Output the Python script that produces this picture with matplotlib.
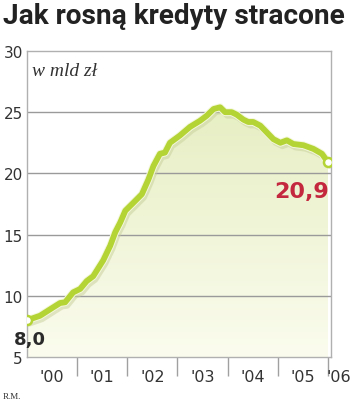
import numpy as np
import matplotlib
matplotlib.use("Agg")
import matplotlib.pyplot as plt
import matplotlib.patheffects as pe
from matplotlib.colors import LinearSegmentedColormap
from matplotlib.patches import Polygon

# data (decimal year, bln zł)
years = [2000.0, 2000.26, 2000.52, 2000.66, 2000.76, 2000.92, 2001.06, 2001.19, 2001.32,
         2001.52, 2001.66, 2001.76, 2001.86, 2001.96, 2002.12, 2002.29, 2002.42, 2002.52,
         2002.65, 2002.75, 2002.85, 2003.05, 2003.25, 2003.45, 2003.58, 2003.72, 2003.85,
         2003.95, 2004.08, 2004.18, 2004.31, 2004.41, 2004.51, 2004.65, 2004.78, 2004.91,
         2005.05, 2005.18, 2005.31, 2005.51, 2005.71, 2005.88, 2006.0]
values = [8.0, 8.37, 9.05, 9.41, 9.47, 10.28, 10.56, 11.2, 11.6,
          12.9, 14.1, 15.2, 16.0, 16.95, 17.6, 18.3, 19.5, 20.6,
          21.6, 21.7, 22.5, 23.1, 23.8, 24.3, 24.7, 25.26, 25.4,
          25.0, 25.0, 24.8, 24.4, 24.2, 24.2, 23.9, 23.35, 22.8,
          22.5, 22.7, 22.4, 22.3, 22.0, 21.6, 20.9]
year_labels = ["'00", "'01", "'02", "'03", "'04", "'05", "'06"]
year_starts = [2000, 2001, 2002, 2003, 2004, 2005, 2006]
yticks = [5, 10, 15, 20, 25, 30]

fig = plt.figure(figsize=(3.5, 4.06), dpi=100)
fig.patch.set_facecolor("white")
ax = fig.add_axes([27/350, 1-358/406, (331-27)/350, (358-52)/406])
ax.set_xlim(2000, 2006.06)
ax.set_ylim(5, 30)

# gradient fill under curve
cmap = LinearSegmentedColormap.from_list("g", ["#fbfcee", "#e6eec2"])
grad = np.linspace(0, 1, 256).reshape(-1, 1)
im = ax.imshow(grad, extent=[2000, 2006.06, 5, 26], origin="lower", aspect="auto",
               cmap=cmap, zorder=1)
poly = Polygon(list(zip(years, values)) + [(years[-1], 5), (years[0], 5)],
               closed=True, transform=ax.transData, facecolor="none", edgecolor="none")
ax.add_patch(poly)
im.set_clip_path(poly)

for y in [10, 15, 20, 25]:
    ax.axhline(y, color="#9a9a9a", lw=1.0, zorder=2)

ax.plot(years, values, color="#b4d335", lw=4.2, solid_capstyle="round", zorder=4,
        path_effects=[pe.SimpleLineShadow(offset=(1.5, -2.5), shadow_color="#c8cf9a", alpha=0.5),
                      pe.Stroke(linewidth=5.6, foreground="#f4f8dc"), pe.Normal()])
ax.plot([years[0], years[-1]], [values[0], values[-1]], "o", ms=6.5, mfc="white",
        mec="#b4d335", mew=1.8, zorder=5)

for s in ax.spines.values():
    s.set_color("#b0b0b0")
    s.set_linewidth(1.0)

ax.set_yticks(yticks)
ax.set_yticklabels([str(v) for v in yticks], fontsize=11, color="#333333")
ax.tick_params(axis="y", length=0, pad=3)
ax.set_xticks(year_starts[1:])
ax.set_xticklabels([])
ax.tick_params(axis="x", length=14, color="#a0a0a0", width=1, direction="out")
for i, lab in enumerate(year_labels):
    if i < 6:
        ax.text(year_starts[i] + 0.5, -0.063, lab, transform=ax.get_xaxis_transform(),
                ha="center", va="center", fontsize=11.5, color="#333333")
    else:
        ax.text(year_starts[i] - 0.03, -0.063, lab, transform=ax.get_xaxis_transform(),
                ha="left", va="center", fontsize=11.5, color="#333333", clip_on=False)

ax.text(2000.09, 28.4, "w mld zł", family="Liberation Serif", style="italic",
        fontsize=14, color="#333333", ha="left", va="center")
ax.text(1999.74, 6.45, "8,0", fontsize=13, fontweight="bold", color="#2a2a2a",
        ha="left", va="center")
ax.text(2006.03, 18.6, "20,9", fontsize=16, fontweight="bold", color="#c3283f",
        ha="right", va="center")

title = fig.text(3/350, 1-17/406, "Jak rosną kredyty stracone", family="Roboto",
                 fontsize=19, fontweight="bold", color="#222222", ha="left", va="center")
fig.canvas.draw()
w = title.get_window_extent().width
title.set_fontsize(19 * 343 / w)

fig.text(3/350, 1-397/406, "R.M.", family="Liberation Serif", fontsize=6.5,
         color="#333333", ha="left", va="center")

fig.savefig("out.png", dpi=100, facecolor="white")
